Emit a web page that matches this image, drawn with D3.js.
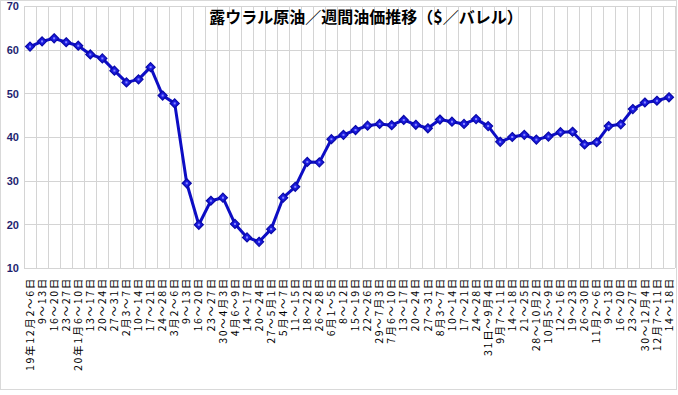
<!DOCTYPE html>
<html>
<head>
<meta charset="utf-8">
<script src="https://cdn.jsdelivr.net/npm/d3@7"></script>
<style>
  html, body { margin: 0; padding: 0; background: #fff; }
  svg { display: block; }
</style>
</head>
<body>
<svg id="chart" width="678" height="395"></svg>
<script>
const title = "露ウラル原油／週間油価推移（$／バレル）";

const categories = [
  "19年12月2～6日", "9～13日", "16～20日", "23～27日",
  "20年1月6～10日", "13～17日", "20～24日", "27～31日",
  "2月3～7日", "10～14日", "17～21日", "24～28日",
  "3月2～6日", "9～13日", "16～20日", "23～27日",
  "30～4月3日", "4月6～9日", "14～17日", "20～24日",
  "27～5月1日", "5月4～7日", "11～15日", "18～22日",
  "26～28日", "6月1～5日", "8～12日", "15～19日",
  "22～26日", "29～7月3日", "7月6～10日", "13～17日",
  "20～24日", "27～31日", "8月3～7日", "10～14日",
  "17～21日", "24～28日", "31日～9月4日", "9月7～11日",
  "14～18日", "21～25日", "28～10月2日", "10月5～9日",
  "12～16日", "19～23日", "26～30日", "11月2～6日",
  "9～13日", "16～20日", "23～27日", "30～12月4日",
  "12月7～11日", "14～18日"
];

const prices = [
  60.7, 61.9, 62.6, 61.7, 60.9, 58.9, 58.0, 55.2,
  52.5, 53.2, 56.0, 49.5, 47.7, 29.4, 19.9, 25.4,
  26.1, 20.1, 17.0, 16.0, 18.9, 26.1, 28.6, 34.3,
  34.2, 39.5, 40.5, 41.6, 42.6, 43.0, 42.7, 43.9,
  42.8, 42.0, 44.0, 43.5, 43.0, 44.1, 42.5, 38.9,
  40.0, 40.5, 39.4, 40.1, 41.1, 41.2, 38.3, 38.8,
  42.5, 42.9, 46.4, 47.9, 48.3, 49.1
];

const yTicks = [10, 20, 30, 40, 50, 60, 70];

const svg = d3.select("#chart");
const plot = { left: 24, right: 675, top: 6, bottom: 268 };

// outer border
svg.append("rect")
  .attr("x", 0.5).attr("y", 0.5)
  .attr("width", 676).attr("height", 389)
  .attr("fill", "#fff").attr("stroke", "#d9d9d9");

const keys = categories.map((c, i) => i);
const x = d3.scaleBand().domain(keys).range([plot.left, plot.right]).padding(0);
const y = d3.scaleLinear().domain([10, 70]).range([plot.bottom, plot.top]);

// grid: horizontal
svg.append("g").selectAll("line").data(yTicks).join("line")
  .attr("x1", plot.left).attr("x2", plot.right)
  .attr("y1", d => Math.round(y(d)) + 0.5).attr("y2", d => Math.round(y(d)) + 0.5)
  .attr("stroke", "#d4d4d4").attr("stroke-width", 1);

// grid: vertical at band boundaries
const bounds = keys.map(k => x(k)).concat([plot.right]);
svg.append("g").selectAll("line").data(bounds).join("line")
  .attr("x1", d => Math.round(d) + 0.5).attr("x2", d => Math.round(d) + 0.5)
  .attr("y1", plot.top).attr("y2", plot.bottom)
  .attr("stroke", "#d4d4d4").attr("stroke-width", 1);

// y axis labels
const yAxis = d3.axisLeft(y).tickValues(yTicks).tickSize(0).tickPadding(0);
const gy = svg.append("g").attr("transform", "translate(19,0)").call(yAxis);
gy.select(".domain").remove();
gy.selectAll("text")
  .attr("font-family", "Liberation Sans, Arial, sans-serif")
  .attr("font-size", 11).attr("font-weight", "bold")
  .attr("fill", "#1f1f70")
  .attr("dy", "0.35em");

// x axis labels (rotated)
const xAxis = d3.axisBottom(x).tickFormat(i => categories[i]).tickSize(0).tickPadding(0);
const gx = svg.append("g").attr("transform", `translate(0,${plot.bottom})`).call(xAxis);
gx.select(".domain").remove();
gx.selectAll("text")
  .attr("font-family", "Noto Sans CJK JP, sans-serif")
  .attr("font-size", 10.5)
  .attr("letter-spacing", "1.7px")
  .attr("fill", "#000")
  .attr("text-anchor", "end")
  .attr("transform", "translate(0,9) rotate(-90)")
  .attr("x", 0).attr("y", 0)
  .attr("dy", "0.35em");

// line
const cx = i => x(i) + x.bandwidth() / 2;
const line = d3.line().x((d, i) => cx(i)).y(d => y(d));
svg.append("path").datum(prices)
  .attr("d", line)
  .attr("fill", "none")
  .attr("stroke", "#0d0dc4")
  .attr("stroke-width", 3)
  .attr("stroke-linejoin", "round");

// markers
const diamond = d3.symbol().type(d3.symbolDiamond2).size(52);
const mk = svg.append("g").selectAll("g").data(prices).join("g")
  .attr("transform", (d, i) => `translate(${cx(i)},${y(d)})`);
mk.append("path").attr("d", diamond)
  .attr("fill", "#1a1ae0").attr("stroke", "#0a0aa8").attr("stroke-width", 1.2);
mk.append("rect").attr("x", -1).attr("y", -1).attr("width", 2).attr("height", 2)
  .attr("fill", "#8a8aff");

// title
svg.append("text")
  .attr("x", 366).attr("y", 23)
  .attr("text-anchor", "middle")
  .attr("font-family", "Noto Sans CJK JP, sans-serif")
  .attr("font-size", 16)
  .attr("font-weight", "bold")
  .attr("fill", "#000")
  .text(title);
</script>
</body>
</html>
